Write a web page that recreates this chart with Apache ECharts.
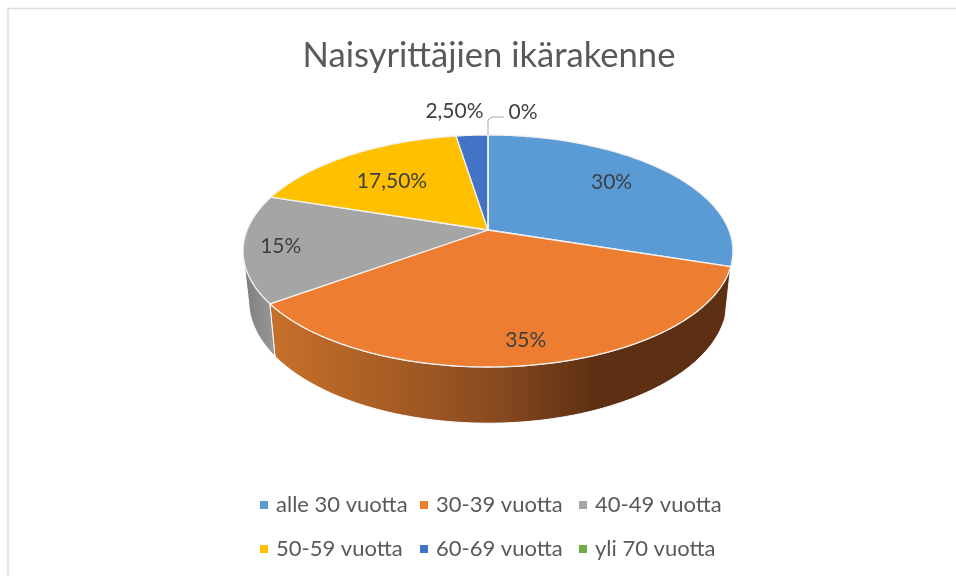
<!DOCTYPE html>
<html>
<head>
<meta charset="utf-8">
<style>
html,body{margin:0;padding:0;background:#fff}
#chart{width:956px;height:576px}
</style>
<script src="https://cdn.jsdelivr.net/npm/echarts@6/dist/echarts.min.js"></script>
</head>
<body>
<div id="chart"></div>
<script>
// data
var categories = ['alle 30 vuotta', '30-39 vuotta', '40-49 vuotta', '50-59 vuotta', '60-69 vuotta', 'yli 70 vuotta'];
var shares = [30, 35, 15, 17.5, 2.5, 0];
var shareLabels = ['30%', '35%', '15%', '17,50%', '2,50%', '0%'];
var colors = ['#5b9bd5', '#ed7d31', '#a5a5a5', '#ffc000', '#4472c4', '#70ad47'];

// perspective of the disc: the apex is not the centre of the drawn ellipse
var cx = 488, cy = 230, rx = 240.9, ry = 112.2, persp = 0.181;
var baseScaleX = 0.977, baseScaleY = 1.06, baseCy = 278;
// the rim is only visible on the front, up to the left silhouette
var rimFrom = 90, rimTo = 258;

// label placement along the middle angle of each slice
var labelRadius = [0.68, 0.85, 0.85, 0.67, 1.27, 1.27];
var labelShiftX = [0, 0, 0, 0, -14, 35];
var labelShiftY = [-6, -1, 1, 4, -3, -2];

var total = shares.reduce(function (a, b) { return a + b; }, 0);
var starts = [];
shares.reduce(function (sum, v, i) { starts[i] = sum; return sum + v; }, 0);

function project(deg, r) {
  var a = deg * Math.PI / 180;
  var x = Math.sin(a) * r, y = -Math.cos(a) * r;
  var d = 1 - persp * y;
  return [cx + rx * x / d, cy + ry * y / d];
}
function projectBase(deg) {
  var p = project(deg, 1);
  return [cx + baseScaleX * (p[0] - cx), baseCy + baseScaleY * (p[1] - cy)];
}
function arc(from, to, fn) {
  var pts = [], n = Math.max(1, Math.ceil(Math.abs(to - from)));
  for (var i = 0; i <= n; i++) pts.push(fn(from + (to - from) * i / n));
  return pts;
}

function rimFill(i) {
  if (i === 1) {
    return {type: 'linear', x: 270, y: 0, x2: 732, y2: 0, global: true, colorStops: [
      {offset: 0, color: '#c87029'},
      {offset: 0.3, color: '#a25a24'},
      {offset: 0.5, color: '#87491f'},
      {offset: 0.7, color: '#5e3013'},
      {offset: 1, color: '#5e3013'}
    ]};
  }
  if (i === 2) {
    return {type: 'linear', x: 245, y: 0, x2: 275, y2: 0, global: true, colorStops: [
      {offset: 0, color: '#7f7f7f'},
      {offset: 1, color: '#989898'}
    ]};
  }
  return '#888';
}

function renderSlice(i, params, api) {
  var from = api.value(0) / total * 360;
  var to = (api.value(0) + api.value(1)) / total * 360;
  var mid = (from + to) / 2;
  var children = [];

  var a = Math.max(from, rimFrom), b = Math.min(to, rimTo);
  if (b > a) {
    children.push({
      type: 'polygon',
      z2: 1,
      shape: {points: arc(a, b, function (d) { return project(d, 1); })
        .concat(arc(b, a, projectBase))},
      style: {fill: rimFill(i), stroke: '#fff', lineWidth: 1}
    });
  }

  children.push({
    type: 'polygon',
    z2: 2,
    shape: {points: [[cx, cy]].concat(arc(from, to, function (d) { return project(d, 1); }))},
    style: {fill: api.value(1) > 0 ? colors[i] : 'none', stroke: '#f2f2f2', lineWidth: 1.3, lineJoin: 'round'}
  });

  var lp = project(mid, labelRadius[i]);
  children.push({
    type: 'text',
    z2: 4,
    style: {
      x: lp[0] + labelShiftX[i], y: lp[1] + labelShiftY[i],
      text: shareLabels[i],
      fill: '#404040',
      font: '21px Lato',
      align: 'center', verticalAlign: 'middle'
    }
  });

  // leader line for the empty slice
  if (api.value(1) === 0) {
    var rim = project(mid, 1);
    children.push({
      type: 'polyline',
      z2: 3,
      shape: {points: [rim, [rim[0], rim[1] - 15], [rim[0] + 4, rim[1] - 18], [rim[0] + 16, rim[1] - 18]]},
      style: {fill: 'none', stroke: '#a6a6a6', lineWidth: 1}
    });
  }
  return {type: 'group', children: children};
}

var myChart = echarts.init(document.getElementById('chart'));

var legendBase = {
  orient: 'vertical',
  top: 494,
  itemWidth: 8,
  itemHeight: 8,
  itemGap: 22,
  icon: 'rect',
  selectedMode: false,
  padding: 0,
  textStyle: {color: '#595959', fontFamily: 'Lato', fontSize: 22, padding: [0, 0, 0, 3]}
};

myChart.setOption({
  animation: false,
  backgroundColor: '#fff',
  color: colors,
  title: {
    text: 'Naisyrittäjien ikärakenne',
    left: 484,
    top: 33,
    textAlign: 'center',
    textStyle: {color: '#595959', fontFamily: 'Lato', fontSize: 34.6, fontWeight: 'normal'}
  },
  legend: [0, 1, 2].map(function (c) {
    return Object.assign({}, legendBase, {
      left: [260, 420, 579][c],
      data: [categories[c], categories[c + 3]]
    });
  }),
  graphic: [{
    type: 'polyline',
    silent: true,
    shape: {points: [[8, 576], [8, 8.5], [956, 8.5]]},
    style: {fill: 'none', stroke: '#dcdcdc', lineWidth: 1.5}
  }],
  series: categories.map(function (name, i) {
    return {
      type: 'custom',
      name: name,
      coordinateSystem: 'none',
      itemStyle: {color: colors[i]},
      encode: {value: 1},
      data: [[starts[i], shares[i]]],
      renderItem: function (params, api) { return renderSlice(i, params, api); }
    };
  })
});
</script>
</body>
</html>
